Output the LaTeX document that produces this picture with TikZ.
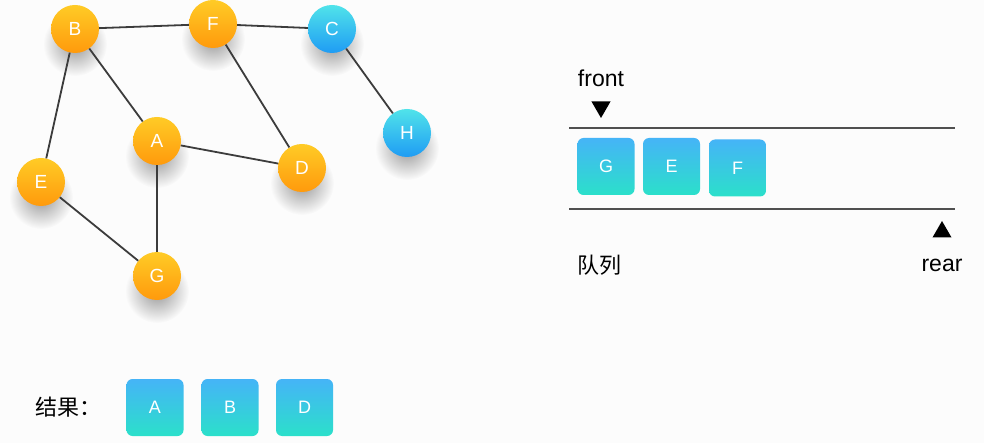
\documentclass[tikz,border=0pt]{standalone}
\usepackage{fontspec}
\setmainfont{Liberation Sans}
\newfontfamily\cjk{Noto Sans CJK SC}
\usetikzlibrary{positioning,shapes.geometric,fadings,backgrounds,calc}

\definecolor{orangetop}{HTML}{FFCB26}
\definecolor{orangebot}{HTML}{FF9A0C}
\definecolor{bluetop}{HTML}{50E3EA}
\definecolor{bluebot}{HTML}{1F9CF4}
\definecolor{boxtop}{HTML}{45B4F7}
\definecolor{boxbot}{HTML}{2BE0CA}
\definecolor{edgegray}{HTML}{3C3C3C}
\definecolor{paper}{HTML}{FCFCFC}

\tikzfading[name=softshadow, inner color=transparent!60, outer color=transparent!100]

\tikzset{
	vtx/.style={circle, minimum size=48pt, inner sep=0pt, text=white,
		font=\fontsize{19}{19}\selectfont},
	orangevtx/.style={vtx, top color=orangetop, bottom color=orangebot},
	bluevtx/.style={vtx, top color=bluetop, bottom color=bluebot},
	qbox/.style={rounded corners=6pt, minimum width=57pt, minimum height=57pt,
		inner sep=0pt, top color=boxtop, bottom color=boxbot, text=white,
		font=\fontsize{18}{18}\selectfont},
	edge/.style={draw=edgegray, line width=1.8pt},
	qline/.style={draw=edgegray!90, line width=1.8pt},
	pointer/.style={regular polygon, regular polygon sides=3, fill=black,
		inner sep=0pt, minimum size=22pt},
	lbl/.style={inner sep=0pt, font=\fontsize{23}{23}\selectfont},
	cjklbl/.style={inner sep=0pt, font=\cjk\fontsize{22}{22}\selectfont},
}

\begin{document}
\begin{tikzpicture}[x=1pt, y=-1pt, node distance=60pt, on grid]
	\useasboundingbox (0,0) rectangle (984,443);

	% graph
	\node[orangevtx] (b) at (75,29) {B};
	\node[orangevtx, above right=5pt and 138pt of b] (f) {F};
	\node[bluevtx, below right=5pt and 119pt of f] (c) {C};
	\node[bluevtx, below right=104pt and 75pt of c] (h) {H};
	\node[orangevtx, below right=112pt and 82pt of b] (a) {A};
	\node[orangevtx, below right=27pt and 145pt of a] (d) {D};
	\node[orangevtx, below left=153pt and 34pt of b] (e) {E};
	\node[orangevtx, below=135pt of a] (g) {G};

	\draw[edge] (b) -- (f);
	\draw[edge] (f) -- (c);
	\draw[edge] (c) -- (h);
	\draw[edge] (b) -- (a);
	\draw[edge] (b) -- (e);
	\draw[edge] (f) -- (d);
	\draw[edge] (a) -- (d);
	\draw[edge] (a) -- (g);
	\draw[edge] (e) -- (g);

	% queue
	\coordinate (qtl) at (569,128);
	\coordinate (qtr) at (955,128);
	\coordinate (qbl) at (569,209);
	\coordinate (qbr) at (955,209);
	\draw[qline] (qtl) -- (qtr);
	\draw[qline] (qbl) -- (qbr);

	\node[qbox] (qg) at (606,166.5) {G};
	\node[qbox, right=65.5pt of qg] (qe) {E};
	\node[qbox, right=66pt of qe, yshift=-1.5pt] (qf) {F};

	\node[lbl] (front) at (601,78) {front};
	\node[pointer, shape border rotate=180, below=29pt of front] (frontptr) {};
	\node[pointer] (rearptr) at (942,232) {};
	\node[lbl] (rear) at (942,265) {rear};
	\node[cjklbl] (queuelbl) at (599,265) {队列};

	% result
	\node[cjklbl] (resultlbl) at (68,407) {结果：};
	\node[qbox] (ra) at (155,407.5) {A};
	\node[qbox, right=75pt of ra] (rb) {B};
	\node[qbox, right=74.5pt of rb] (rd) {D};

	% paper and shadows
	\begin{scope}[on background layer]
		\fill[paper] (0,0) rectangle (984,443);
		\foreach \v in {a,b,c,d,e,f,g,h}
			\fill[black, path fading=softshadow] ($(\v)+(0,15)$) circle (32);
	\end{scope}
\end{tikzpicture}
\end{document}
